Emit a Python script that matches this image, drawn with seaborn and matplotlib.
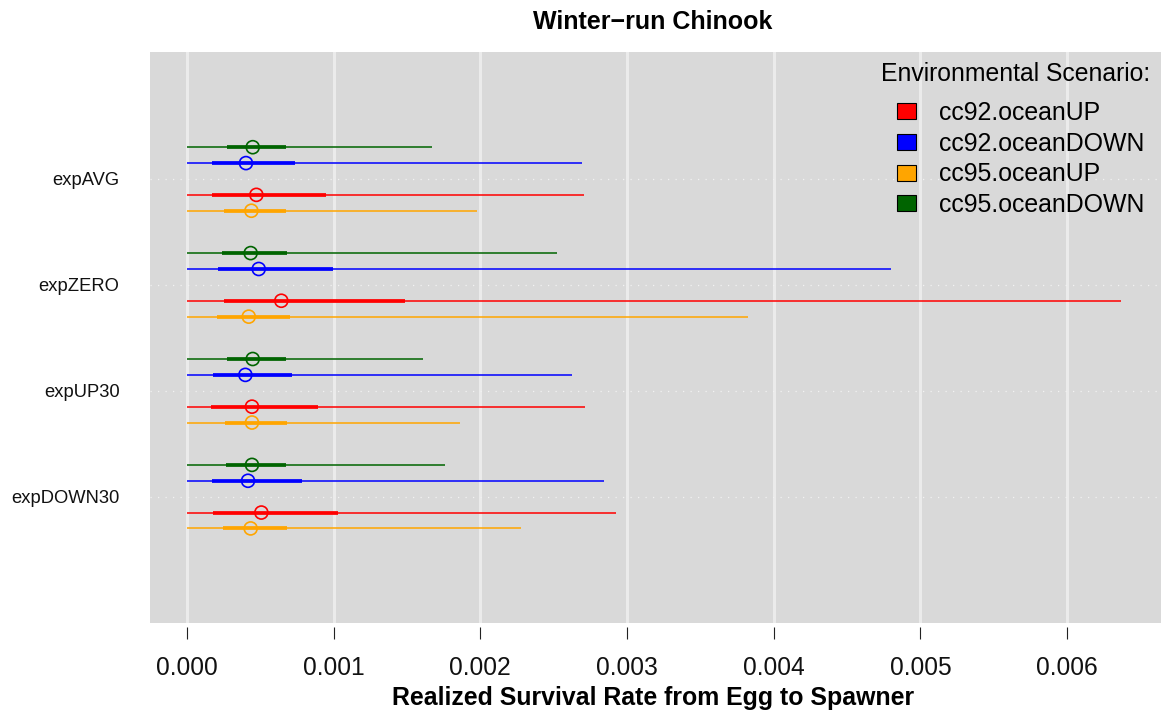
import matplotlib
matplotlib.use("Agg")
import matplotlib.pyplot as plt
from matplotlib.patches import Patch
import numpy as np
import pandas as pd
import seaborn as sns

plt.rcParams["font.family"] = ["Liberation Sans", "DejaVu Sans"]

experiments = ["expAVG", "expZERO", "expUP30", "expDOWN30"]
scenarios = ["cc92.oceanUP", "cc92.oceanDOWN", "cc95.oceanUP", "cc95.oceanDOWN"]
scenario_colors = ["#FF0000", "#0000FF", "#FFA500", "#006400"]

# Survival summaries per scenario, listed in experiment order:
# median, inner range (thick segment) and full range (thin segment)
cc92_up_median = [0.000473, 0.000643, 0.000443, 0.000507]
cc92_up_inner_lo = [0.000168, 0.000250, 0.000161, 0.000175]
cc92_up_inner_hi = [0.000946, 0.001484, 0.000895, 0.001032]
cc92_up_min = [0.0, 0.0, 0.0, 0.0]
cc92_up_max = [0.002705, 0.006370, 0.002716, 0.002925]

cc92_down_median = [0.000402, 0.000489, 0.000398, 0.000416]
cc92_down_inner_lo = [0.000173, 0.000209, 0.000177, 0.000173]
cc92_down_inner_hi = [0.000739, 0.000998, 0.000714, 0.000784]
cc92_down_min = [0.0, 0.0, 0.0, 0.0]
cc92_down_max = [0.002696, 0.004798, 0.002627, 0.002841]

cc95_up_median = [0.000439, 0.000421, 0.000443, 0.000434]
cc95_up_inner_lo = [0.000255, 0.000202, 0.000259, 0.000243]
cc95_up_inner_hi = [0.000675, 0.000702, 0.000680, 0.000680]
cc95_up_min = [0.0, 0.0, 0.0, 0.0]
cc95_up_max = [0.001980, 0.003827, 0.001860, 0.002280]

cc95_down_median = [0.000448, 0.000434, 0.000448, 0.000443]
cc95_down_inner_lo = [0.000270, 0.000239, 0.000275, 0.000268]
cc95_down_inner_hi = [0.000673, 0.000684, 0.000673, 0.000675]
cc95_down_min = [0.0, 0.0, 0.0, 0.0]
cc95_down_max = [0.001668, 0.002525, 0.001610, 0.001760]

summaries = {
    "cc92.oceanUP": (cc92_up_median, cc92_up_inner_lo, cc92_up_inner_hi, cc92_up_min, cc92_up_max),
    "cc92.oceanDOWN": (cc92_down_median, cc92_down_inner_lo, cc92_down_inner_hi, cc92_down_min, cc92_down_max),
    "cc95.oceanUP": (cc95_up_median, cc95_up_inner_lo, cc95_up_inner_hi, cc95_up_min, cc95_up_max),
    "cc95.oceanDOWN": (cc95_down_median, cc95_down_inner_lo, cc95_down_inner_hi, cc95_down_min, cc95_down_max),
}

# vertical layout: experiments top to bottom, scenarios dodged within each row
row_pos = {e: len(experiments) - i for i, e in enumerate(experiments)}
dodge = {"cc92.oceanUP": -0.15, "cc92.oceanDOWN": 0.15,
         "cc95.oceanUP": -0.30, "cc95.oceanDOWN": 0.30}

records = []
for scen in scenarios:
    med, ilo, ihi, lo, hi = summaries[scen]
    for j, exp in enumerate(experiments):
        records.append(dict(experiment=exp, scenario=scen, median=med[j],
                            inner_lo=ilo[j], inner_hi=ihi[j], lo=lo[j], hi=hi[j],
                            y=row_pos[exp] + dodge[scen]))
df = pd.DataFrame(records)
palette = dict(zip(scenarios, scenario_colors))

W, H = 1161, 718
fig = plt.figure(figsize=(W / 100, H / 100), dpi=100)
ax = fig.add_axes([150 / W, (H - 623) / H, (W - 150) / W, (623 - 52) / H])
ax.set_facecolor("#D9D9D9")

# grid
for xv in np.arange(0, 0.0061, 0.001):
    ax.axvline(xv, color="#EBEBEB", lw=2.2, zorder=0)
for exp in experiments:
    ax.axhline(row_pos[exp], color="#F2F2F2", lw=0.9, ls=(0, (1, 5)), zorder=0)

# interval segments
for _, r in df.iterrows():
    c = palette[r["scenario"]]
    ax.hlines(r["y"], r["lo"], r["hi"], color=c, lw=1.1, zorder=2)
    ax.hlines(r["y"], r["inner_lo"], r["inner_hi"], color=c, lw=2.7, zorder=3)

# medians as hollow circles
sns.scatterplot(data=df, x="median", y="y", hue="scenario", palette=palette,
                hue_order=scenarios, s=88, marker="o", linewidth=1.2,
                legend=False, ax=ax, zorder=4)
pts = ax.collections[-1]
pts.set_edgecolors(pts.get_facecolors())
pts.set_facecolors("none")

ax.set_xlim(-0.0002523, 0.006641)
ax.set_ylim(-0.193, 5.199)

for s in ax.spines.values():
    s.set_visible(False)
ax.spines["bottom"].set_position(("outward", 3))

ax.set_xticks(np.arange(0, 0.0061, 0.001))
ax.set_xticklabels([f"{v:.3f}" for v in np.arange(0, 0.0061, 0.001)])
ax.tick_params(axis="x", length=8.6, width=0.8, color="#222222", pad=12,
               labelsize=17.7, labelcolor="#111111")
ax.set_yticks([row_pos[e] for e in experiments])
ax.set_yticklabels(experiments)
ax.tick_params(axis="y", length=0, pad=22, labelsize=13.2, labelcolor="#111111")
ax.set_xlabel("")
ax.set_ylabel("")

fig.text(653 / W, 1 - 22 / H, "Winter\u2212run Chinook", ha="center", va="center",
         fontsize=18, fontweight="bold")
fig.text(653.5 / W, 1 - 698 / H, "Realized Survival Rate from Egg to Spawner",
         ha="center", va="center", fontsize=17.9, fontweight="bold")

fig.text(1150 / W, 1 - 74 / H, "Environmental Scenario:", ha="right", va="center",
         fontsize=17.8)
handles = [Patch(facecolor=c, edgecolor="black", lw=0.8) for c in scenario_colors]
leg = ax.legend(handles, scenarios, loc="upper left",
                bbox_to_anchor=(897 / W, 1 - 101 / H),
                bbox_transform=fig.transFigure, frameon=False, fontsize=17.9,
                handlelength=0.76, handleheight=0.6,
                handletextpad=0.92, labelspacing=0.27, borderpad=0, borderaxespad=0)

fig.savefig("out.png", dpi=100)
